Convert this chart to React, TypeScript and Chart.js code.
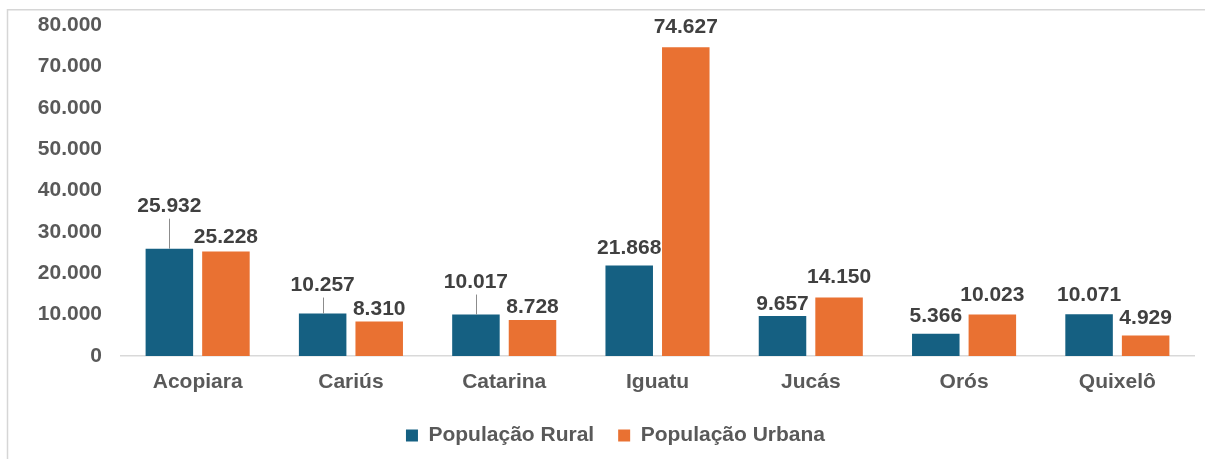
import React, { useEffect, useRef } from "react";
import { Chart, registerables } from "chart.js";

Chart.register(...registerables);

const categories = ["Acopiara", "Cariús", "Catarina", "Iguatu", "Jucás", "Orós", "Quixelô"];
const ruralPop = [25932, 10257, 10017, 21868, 9657, 5366, 10071];
const urbanPop = [25228, 8310, 8728, 74627, 14150, 10023, 4929];
const seriesNames = ["População Rural", "População Urbana"];
const yMax = 80000;
const yStep = 10000;

// label placement (distance from bar top to text baseline), as moved in the source chart
const ruralLabelGap = [37, 23, 27, 12, 6, 12, 13];
const urbanLabelGap = [9, 7, 7, 14, 14, 14, 12];

const RURAL_COLOR = "#156082";
const URBAN_COLOR = "#E97132";
const TEXT_COLOR = "#595959";
const LABEL_COLOR = "#404040";
const FONT_FAMILY = "'Liberation Sans', Arial, sans-serif";

const fmt = (v: number) => String(Math.round(v)).replace(/\B(?=(\d{3})+(?!\d))/g, ".");

const framePlugin = {
  id: "frame",
  beforeDraw(chart: any) {
    const { ctx, width, height } = chart;
    ctx.save();
    ctx.fillStyle = "#ffffff";
    ctx.fillRect(0, 0, width, height);
    ctx.strokeStyle = "#d6d6d6";
    ctx.lineWidth = 1.5;
    ctx.beginPath();
    ctx.moveTo(7.5, height);
    ctx.lineTo(7.5, 9.75);
    ctx.lineTo(width, 9.75);
    ctx.stroke();
    ctx.restore();
  },
};

const labelPlugin = {
  id: "barLabels",
  afterDatasetsDraw(chart: any) {
    const { ctx } = chart;
    const gaps = [ruralLabelGap, urbanLabelGap];
    ctx.save();
    ctx.font = `bold 21px ${FONT_FAMILY}`;
    ctx.textAlign = "center";
    ctx.textBaseline = "alphabetic";
    chart.data.datasets.forEach((ds: any, di: number) => {
      const meta = chart.getDatasetMeta(di);
      meta.data.forEach((bar: any, i: number) => {
        const gap = gaps[di][i];
        const baseY = bar.y - gap;
        if (gap > 20) {
          ctx.strokeStyle = "#8c8c8c";
          ctx.lineWidth = 1;
          ctx.beginPath();
          ctx.moveTo(Math.round(bar.x) + 0.5, bar.y);
          ctx.lineTo(Math.round(bar.x) + 0.5, baseY + 7);
          ctx.stroke();
        }
        ctx.fillStyle = LABEL_COLOR;
        ctx.fillText(fmt(ds.data[i]), bar.x, baseY);
      });
    });
    ctx.restore();
  },
};

export default function App() {
  const ref = useRef<HTMLCanvasElement | null>(null);
  useEffect(() => {
    if (!ref.current) return;
    const chart = new Chart(ref.current, {
      type: "bar",
      data: {
        labels: categories,
        datasets: [
          {
            label: seriesNames[0],
            data: ruralPop,
            backgroundColor: RURAL_COLOR,
            categoryPercentage: 0.738,
            barPercentage: 0.84,
          },
          {
            label: seriesNames[1],
            data: urbanPop,
            backgroundColor: URBAN_COLOR,
            categoryPercentage: 0.738,
            barPercentage: 0.84,
          },
        ],
      },
      options: {
        responsive: false,
        animation: false,
        devicePixelRatio: 1,
        layout: { padding: { left: 37, right: 11, top: 25, bottom: 3 } },
        plugins: {
          tooltip: { enabled: false },
          legend: {
            position: "bottom",
            labels: {
              boxWidth: 12,
              boxHeight: 12,
              padding: 24,
              color: TEXT_COLOR,
              font: { family: FONT_FAMILY, size: 21, weight: "bold" },
            },
          },
        },
        scales: {
          x: {
            grid: { display: false, drawTicks: false },
            border: { display: true, color: "#d9d9d9", width: 1.5 },
            ticks: {
              color: TEXT_COLOR,
              padding: 13.5,
              font: { family: FONT_FAMILY, size: 21, weight: "bold" },
            },
            afterFit: (scale: any) => {
              scale.height = 45;
            },
          },
          y: {
            min: 0,
            max: yMax,
            grid: { display: false, drawTicks: false },
            border: { display: false },
            ticks: {
              stepSize: yStep,
              color: TEXT_COLOR,
              padding: 19,
              font: { family: FONT_FAMILY, size: 21, weight: "bold" },
              callback: (v: any) => fmt(Number(v)),
            },
            afterFit: (scale: any) => {
              scale.width = 121 - 37;
              scale.paddingTop = 0;
              scale.paddingBottom = 0;
            },
          },
        },
      },
      plugins: [framePlugin, labelPlugin],
    });
    return () => chart.destroy();
  }, []);
  return (
    <div style={{ position: "fixed", left: 0, top: 0, width: 1205, height: 459 }}>
      <canvas ref={ref} width={1205} height={459} style={{ display: "block" }} />
    </div>
  );
}
